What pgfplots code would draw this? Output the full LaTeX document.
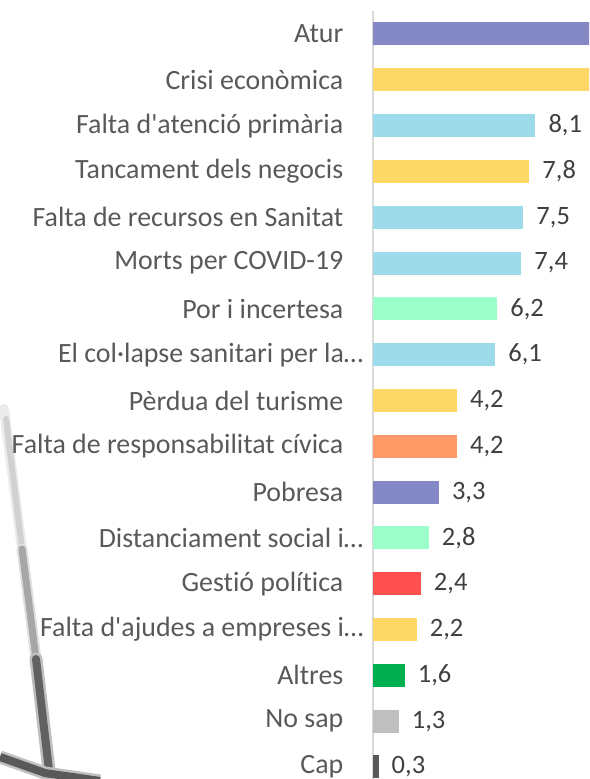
\documentclass[border=0pt]{standalone}
\usepackage{fontspec}
\setmainfont{Carlito}[Ligatures=NoCommon]
\usepackage{pgfplots}
\pgfplotsset{compat=1.18}
\definecolor{cpurple}{HTML}{8489C6}
\definecolor{cyellow}{HTML}{FDD867}
\definecolor{cblue}{HTML}{9DDAEA}
\definecolor{cmint}{HTML}{9CFFCB}
\definecolor{corange}{HTML}{FF9966}
\definecolor{cred}{HTML}{FF5050}
\definecolor{cgreen}{HTML}{00B050}
\definecolor{cgrey}{HTML}{BFBFBF}
\definecolor{cdark}{HTML}{595959}
\definecolor{labgray}{HTML}{595959}
\definecolor{valgray}{HTML}{404040}
\definecolor{axgray}{HTML}{D9D9D9}
\newcommand{\ellip}{…\kern-20pt}
\begin{document}
\begin{tikzpicture}
% faint background decoration (photo remnants)
\draw[line cap=round, line width=10pt, black!8] (4pt,370pt) -- (22pt,230pt);
\draw[line cap=round, line width=6pt, black!18] (6pt,360pt) -- (22pt,230pt);
\draw[line cap=round, line width=11pt, black!12] (22pt,230pt) -- (36pt,120pt);
\draw[line cap=round, line width=7pt, black!35] (22pt,230pt) -- (36pt,120pt);
\draw[line cap=round, line width=13pt, black!25] (36pt,120pt) -- (50pt,0pt);
\draw[line cap=round, line width=8pt, black!62] (36pt,120pt) -- (50pt,0pt);
\draw[line width=13pt, black!25] (0pt,22pt) -- (45pt,6pt) -- (100pt,-2pt);
\draw[line width=8pt, black!65] (0pt,22pt) -- (45pt,6pt) -- (100pt,-2pt);
\begin{axis}[
  at={(372.5pt,0pt)}, anchor=south west,
  scale only axis,
  width=216.5pt, height=767.9pt,
  xmin=0, xmax=10.77,
  ymin=-0.262, ymax=16.5,
  xbar, bar width=23pt, bar shift=0pt,
  axis x line=none,
  axis y line*=left,
  y axis line style={axgray, line width=2pt},
  ytick={0,...,16},
  yticklabels={{Cap},{No sap},{Altres},{Falta d\textquotesingle ajudes a empreses i\ellip},{Gestió política},{Distanciament social i\ellip},{Pobresa},{Falta de responsabilitat cívica},{Pèrdua del turisme},{El col·lapse sanitari per la\ellip},{Por i incertesa},{Morts per COVID-19},{Falta de recursos en Sanitat},{Tancament dels negocis},{Falta d\textquotesingle atenció primària},{Crisi econòmica},{Atur}},
  major tick length=0pt,
  yticklabel style={font=\fontsize{27.9}{31}\selectfont, text=labgray, anchor=east, inner sep=0pt, xshift=-29pt},
  /pgf/number format/.cd, use comma, fixed, fixed zerofill, precision=1, assume math mode=true,
  /pgfplots/.cd,
  every node near coord/.append style={font=\fontsize{26.5}{30}\selectfont, text=valgray, anchor=west, inner sep=0pt, xshift=13pt},
  clip=true,
]
\addplot[fill=cpurple, draw=none] coordinates {(12.0,16)};
\addplot[fill=cyellow, draw=none] coordinates {(11.8,15)};
\addplot[fill=cblue, draw=none, nodes near coords] coordinates {(8.1,14)};
\addplot[fill=cyellow, draw=none, nodes near coords] coordinates {(7.8,13)};
\addplot[fill=cblue, draw=none, nodes near coords] coordinates {(7.5,12)};
\addplot[fill=cblue, draw=none, nodes near coords] coordinates {(7.4,11)};
\addplot[fill=cmint, draw=none, nodes near coords] coordinates {(6.2,10)};
\addplot[fill=cblue, draw=none, nodes near coords] coordinates {(6.1,9)};
\addplot[fill=cyellow, draw=none, nodes near coords] coordinates {(4.2,8)};
\addplot[fill=corange, draw=none, nodes near coords] coordinates {(4.2,7)};
\addplot[fill=cpurple, draw=none, nodes near coords] coordinates {(3.3,6)};
\addplot[fill=cmint, draw=none, nodes near coords] coordinates {(2.8,5)};
\addplot[fill=cred, draw=none, nodes near coords] coordinates {(2.4,4)};
\addplot[fill=cyellow, draw=none, nodes near coords] coordinates {(2.2,3)};
\addplot[fill=cgreen, draw=none, nodes near coords] coordinates {(1.6,2)};
\addplot[fill=cgrey, draw=none, nodes near coords] coordinates {(1.3,1)};
\addplot[fill=cdark, draw=none, nodes near coords] coordinates {(0.3,0)};
\end{axis}
\pgfresetboundingbox
\useasboundingbox (0pt,0pt) rectangle (589pt,779pt);
\end{tikzpicture}
\end{document}
